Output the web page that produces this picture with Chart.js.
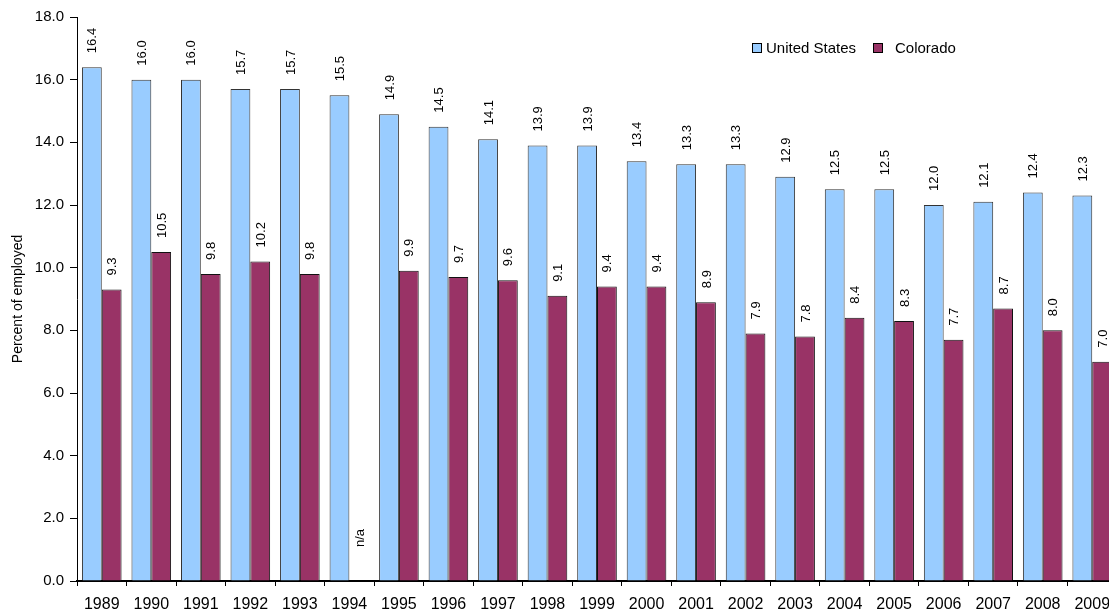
<!DOCTYPE html>
<html>
<head>
<meta charset="utf-8">
<script src="https://cdn.jsdelivr.net/npm/chart.js@4/dist/chart.umd.min.js"></script>
<style>
  body { margin: 0; overflow: hidden; background: #fff; }
  #wrap { width: 1120px; height: 613px; }
</style>
</head>
<body>
<div id="wrap"><canvas id="chart"></canvas></div>
<script>
var years = ['1989','1990','1991','1992','1993','1994','1995','1996','1997','1998','1999',
  '2000','2001','2002','2003','2004','2005','2006','2007','2008','2009'];
var usValues = [16.4,16.0,16.0,15.7,15.7,15.5,14.9,14.5,14.1,13.9,13.9,13.4,13.3,13.3,12.9,12.5,12.5,12.0,12.1,12.4,12.3];
var coValues = [9.3,10.5,9.8,10.2,9.8,null,9.9,9.7,9.6,9.1,9.4,9.4,8.9,7.9,7.8,8.4,8.3,7.7,8.7,8.0,7.0];
var seriesNames = ['United States', 'Colorado'];

var font = 'Liberation Sans, Arial, sans-serif';

// value labels, rotated, above each bar
var valueLabels = {
  id: 'valueLabels',
  afterDatasetsDraw: function(chart) {
    var ctx = chart.ctx;
    ctx.save();
    ctx.font = '13px ' + font;
    ctx.fillStyle = '#000';
    ctx.textBaseline = 'middle';
    ctx.textAlign = 'left';
    chart.data.datasets.forEach(function(ds, i) {
      chart.getDatasetMeta(i).data.forEach(function(bar, j) {
        var v = ds.data[j];
        var txt = v === null ? 'n/a' : v.toFixed(1);
        var y = v === null ? chart.scales.y.getPixelForValue(0) - 34 : bar.y - 14;
        ctx.save();
        ctx.translate(bar.x + 1, y);
        ctx.rotate(-Math.PI / 2);
        ctx.fillText(txt, 0, 0);
        ctx.restore();
      });
    });
    ctx.restore();
  }
};

// legend inside the plot
var boxLegend = {
  id: 'boxLegend',
  afterDraw: function(chart) {
    var ctx = chart.ctx;
    var items = [{x: 752, tx: 766}, {x: 873, tx: 895}];
    ctx.save();
    ctx.font = '15px ' + font;
    ctx.textBaseline = 'middle';
    items.forEach(function(it, i) {
      var ds = chart.data.datasets[i];
      ctx.fillStyle = ds.backgroundColor;
      ctx.fillRect(it.x, 43, 10, 10);
      ctx.strokeStyle = '#000';
      ctx.lineWidth = 1;
      ctx.strokeRect(it.x + 0.5, 43.5, 9, 9);
      ctx.fillStyle = '#000';
      ctx.fillText(seriesNames[i], it.tx, 49);
    });
    ctx.restore();
  }
};

new Chart(document.getElementById('chart'), {
  type: 'bar',
  data: {
    labels: years,
    datasets: [{
      label: seriesNames[0],
      data: usValues,
      backgroundColor: '#99CCFF',
      borderColor: '#333333',
      borderWidth: 1,
      categoryPercentage: 0.8,
      barPercentage: 1.0
    }, {
      label: seriesNames[1],
      data: coValues,
      backgroundColor: '#993366',
      borderColor: '#111111',
      borderWidth: 1,
      categoryPercentage: 0.8,
      barPercentage: 1.0
    }]
  },
  options: {
    responsive: true,
    maintainAspectRatio: false,
    animation: false,
    layout: { padding: { top: 17, left: 0, right: 3, bottom: 0 } },
    plugins: {
      legend: { display: false },
      tooltip: { enabled: false }
    },
    scales: {
      x: {
        grid: { display: true, drawOnChartArea: false, color: '#000', tickLength: 5 },
        border: { color: '#000', width: 2 },
        ticks: { color: '#000', font: { family: font, size: 16 }, padding: 9, maxRotation: 0, autoSkip: false },
        afterFit: function(s) { s.height = 32; }
      },
      y: {
        min: 0,
        max: 18,
        grid: { display: true, drawOnChartArea: false, color: '#000', tickLength: 7 },
        border: { color: '#000', width: 1 },
        ticks: {
          stepSize: 2,
          color: '#000',
          padding: 6,
          font: { family: font, size: 15 },
          callback: function(v) { return v.toFixed(1); }
        },
        title: {
          display: true,
          text: 'Percent of employed',
          color: '#000',
          font: { family: font, size: 14 },
          padding: { top: 10, bottom: 4 }
        },
        afterFit: function(s) { s.width = 77; }
      }
    }
  },
  plugins: [valueLabels, boxLegend]
});
</script>
</body>
</html>
